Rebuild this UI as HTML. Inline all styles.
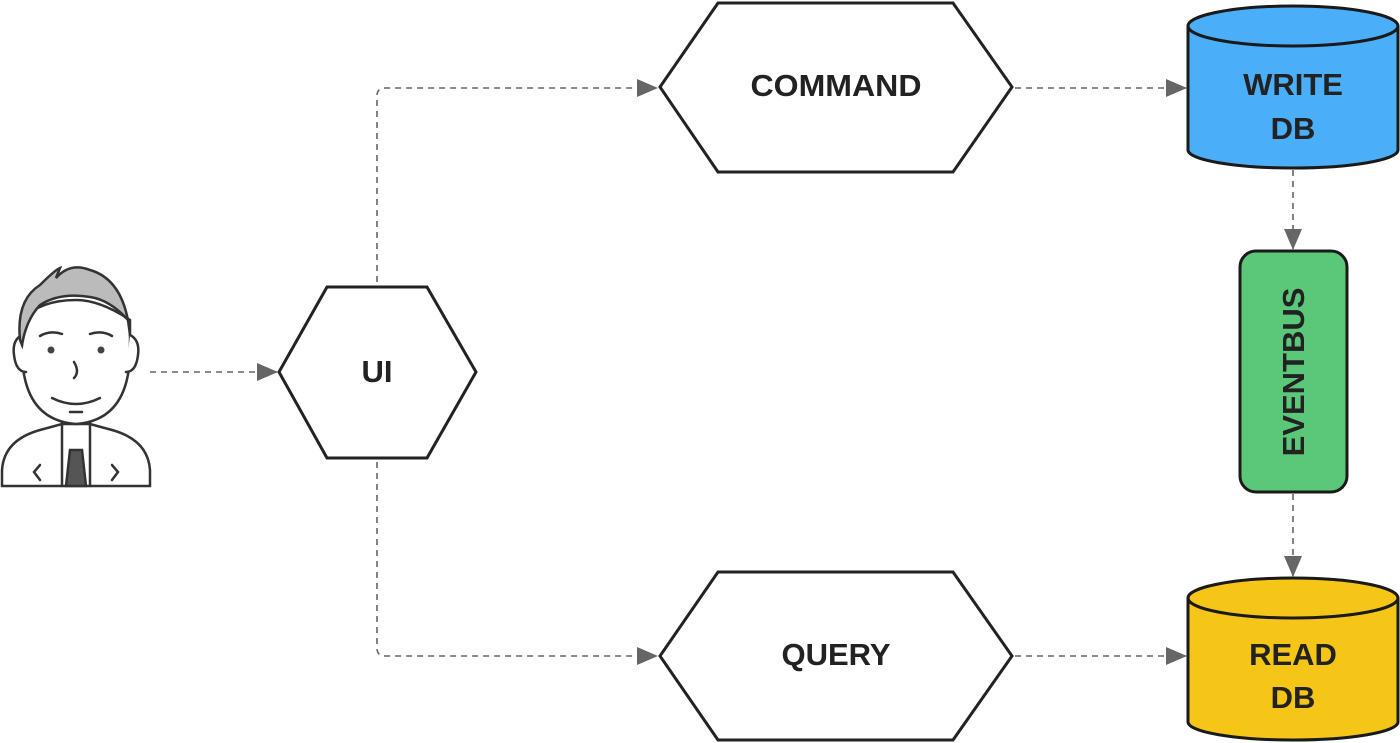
<!DOCTYPE html>
<html><head><style>body{margin:0;background:#fff}svg{display:block}</style></head><body>
<svg width="1400" height="743" viewBox="0 0 1400 743" xmlns="http://www.w3.org/2000/svg">
<defs><marker id="a" markerWidth="22" markerHeight="20" refX="20" refY="9" orient="auto" markerUnits="userSpaceOnUse"><path d="M0,0 L21,9 L0,18 Z" fill="#666"/></marker></defs>
<g stroke="#666" stroke-width="1.6" stroke-dasharray="6,5" fill="none" marker-end="url(#a)">
<path d="M150,372 H277"/>
<path d="M377,282 V96 Q377,88 385,88 H657"/>
<path d="M377,462 V648 Q377,656 385,656 H657"/>
<path d="M1015,88 H1186"/>
<path d="M1015,656 H1186"/>
<path d="M1293,170 V249"/>
<path d="M1293,494 V576"/>
</g>
<g stroke="#222" stroke-width="3" fill="#fff">
<polygon points="660,87 718,3 953,3 1012,87 953,172 718,172"/>
<polygon points="660,656 718,572 953,572 1012,656 953,740 718,740"/>
<polygon points="279,372 327,287 427,287 476,372 427,458 327,458"/>
</g>
<g stroke="#1a1a1a" stroke-width="3">
<path d="M1188,26 V150 A105,18 0 0 0 1398,150 V26" fill="#4aaef8"/>
<ellipse cx="1293" cy="26" rx="105" ry="20" fill="#4aaef8"/>
<path d="M1188,598 V722 A105,18 0 0 0 1398,722 V598" fill="#f5c518"/>
<ellipse cx="1293" cy="598" rx="105" ry="20" fill="#f5c518"/>
<rect x="1240" y="251" width="107" height="241" rx="16" fill="#5ac878"/>
</g>
<g font-family="Liberation Sans, sans-serif" font-weight="bold" font-size="31" fill="#222" text-anchor="middle">
<text x="836" y="96" textLength="171" lengthAdjust="spacingAndGlyphs">COMMAND</text>
<text x="836" y="665">QUERY</text>
<text x="377" y="382">UI</text>
<text x="1293" y="95">WRITE</text>
<text x="1293" y="139">DB</text>
<text x="1293" y="665">READ</text>
<text x="1293" y="708">DB</text>
<text transform="translate(1304,372) rotate(-90)">EVENTBUS</text>
</g>
<g stroke="#333" stroke-width="2.5" fill="none" stroke-linecap="round">
<path d="M2,486 V470 Q4,440 40,430 L62,424 L90,424 L112,430 Q148,440 150,470 V486 Z" fill="#fff"/>
<path d="M62,410 V486 M90,410 V486"/>
<path d="M70,450 L82,450 L86,486 L66,486 Z" fill="#555"/>
<path d="M40,465 L34,472 L40,480 M112,465 L118,472 L112,480"/>
<path d="M22,350 Q22,420 76,424 Q130,420 130,350 L130,320 Q100,300 76,300 Q40,300 22,320 Z" fill="#fff"/>
<path d="M22,335 Q12,340 14,355 Q16,372 26,372 M130,335 Q140,340 138,355 Q136,372 126,372" fill="#fff"/>
<path d="M20,340 Q16,300 40,285 Q55,270 60,268 L56,278 Q70,262 90,270 Q125,280 130,335 L128,320 Q110,300 90,297 Q60,292 40,305 Q26,320 22,345 Z" fill="#bbb"/>
<path d="M40,336 Q50,330 62,334 M90,334 Q102,330 112,336"/>
<path d="M74,362 Q80,372 74,378 M52,398 Q76,410 100,398 M70,412 H82"/>
</g>
<circle cx="51" cy="350" r="3.5" fill="#444"/><circle cx="101" cy="350" r="3.5" fill="#444"/>
</svg>
</body></html>
